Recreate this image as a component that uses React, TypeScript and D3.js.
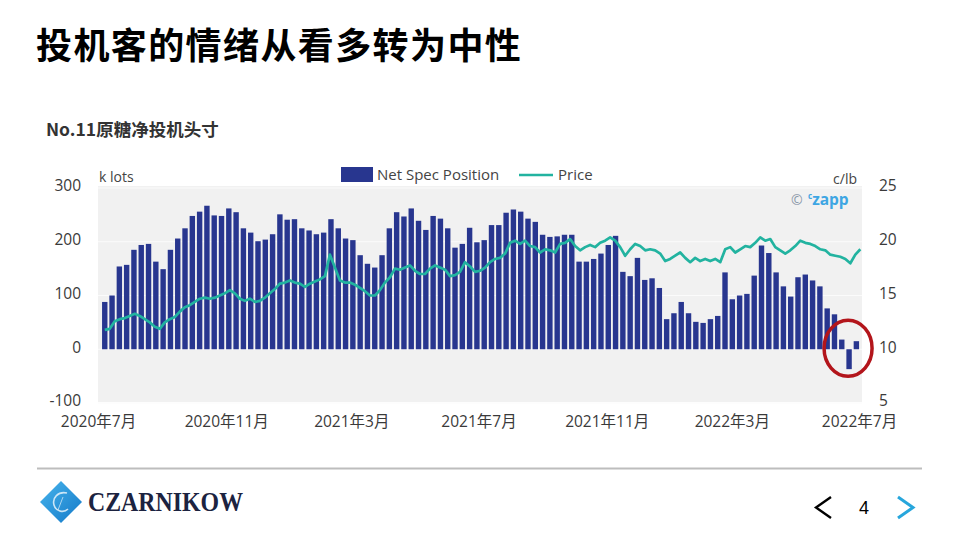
import React from "react";
import * as d3 from "d3";

// ---------- data ----------
const barStartDate = "2020-07-07"; // weekly COT observations
const netSpec: number[] = [
  88, 100, 154, 157, 185, 194, 196, 163, 149, 185, 206, 225, 248, 256, 267, 249, 248, 262, 255, 225,
  217, 201, 204, 214, 251, 241, 242, 225, 221, 214, 217, 242, 225, 206, 203, 175, 159, 152, 175, 225,
  255, 247, 262, 239, 222, 248, 243, 225, 189, 196, 226, 199, 203, 231, 231, 254, 260, 256, 243, 237,
  213, 209, 210, 213, 213, 163, 163, 168, 178, 194, 211, 144, 136, 170, 129, 132, 114, 56, 67, 88,
  67, 51, 49, 56, 62, 143, 93, 100, 103, 137, 193, 179, 143, 117, 98, 134, 139, 128, 117, 76,
  65, 18, -37, 15,
];

const priceStartDate = "2020-07-07";
const priceStepDays = 4.8;
const price: number[] = [
  11.8, 11.9, 12.6, 12.8, 12.9, 13.1, 13.3, 13.1, 12.8, 12.5, 12.1, 11.9, 12.5, 12.8, 13.0, 13.5, 13.9, 14.1, 14.4, 14.7,
  14.8, 14.7, 14.8, 15.0, 15.2, 15.5, 15.2, 14.7, 14.5, 14.7, 14.4, 14.5, 14.8, 15.2, 15.6, 16.1, 16.2,
  16.4, 16.2, 16.1, 15.8, 16.1, 16.3, 16.5, 16.8, 18.8, 17.6, 16.4, 16.2, 16.2, 16.0, 15.7, 15.4, 15.0, 15.0, 15.5, 16.2,
  16.7, 17.5, 17.4, 17.6, 17.8, 17.3, 17.0, 17.0, 17.5, 17.8, 17.6, 17.4, 16.8, 16.9, 17.2, 18.1, 17.7, 17.2,
  17.3, 17.6, 18.1, 18.4, 18.5, 18.9, 19.9, 20.1, 19.8, 20.1, 19.6, 19.5, 19.0, 19.3, 19.2, 19.0, 19.8, 19.9, 20.25, 19.6,
  19.2, 19.5, 19.7, 19.5, 19.9, 20.1, 20.4, 20.1, 19.5, 18.7, 19.3, 19.8, 19.6, 19.2, 19.3, 19.2, 18.9, 18.2, 18.4,
  18.7, 19.0, 18.5, 18.1, 18.5, 18.2, 18.4, 18.2, 18.4, 18.1, 19.3, 19.5, 19.0, 19.3, 19.6, 19.5, 19.9, 20.4, 20.1, 20.25,
  19.5, 19.2, 18.9, 19.2, 19.6, 20.1, 19.9, 19.8, 19.6, 19.3, 19.2, 18.8, 18.7, 18.6, 18.4, 18.0, 18.8, 19.3,
];

const leftTicks = [-100, 0, 100, 200, 300];
const rightTicks = [5, 10, 15, 20, 25];
const xTickDates = ["2020-07-01", "2020-11-01", "2021-03-01", "2021-07-01", "2021-11-01", "2022-03-01", "2022-07-01"];
const xTickLabels = ["2020年7月", "2020年11月", "2021年3月", "2021年7月", "2021年11月", "2022年3月", "2022年7月"];

const title = "投机客的情绪从看多转为中性";
const chartTitle = "No.11原糖净投机头寸";
const legendLabels = ["Net Spec Position", "Price"];
const pageNumber = "4";

// ---------- styling ----------
const NAVY = "#28368f";
const TEAL = "#22b3a0";
const LATIN = "'Open Sans', 'Noto Sans', sans-serif";
const CJK = "'Noto Sans CJK SC', 'Noto Sans', sans-serif";
const TICK = "#3a3a3a";

const parse = d3.timeParse("%Y-%m-%d");

export default function App() {
  const x = d3
    .scaleTime()
    .domain([parse("2020-07-01")!, parse("2022-07-01")!])
    .range([98.5, 859.5]);
  const yL = d3.scaleLinear().domain([-100, 300]).range([403, 188]);
  const yR = d3.scaleLinear().domain([5, 25]).range([403, 188]);

  const barStart = parse(barStartDate)!;
  const bars = netSpec.map((v, i) => ({ date: d3.timeDay.offset(barStart, i * 7), v }));
  const pStart = parse(priceStartDate)!;
  const prices = price.map((p, i) => ({
    date: new Date(+pStart + i * priceStepDays * 86400000),
    p,
  }));
  const line = d3
    .line<{ date: Date; p: number }>()
    .x((d) => x(d.date))
    .y((d) => yR(d.p));

  const barW = 5.4;
  const circleBar = bars[bars.length - 2];

  return (
    <svg
      width={960}
      height={540}
      viewBox="0 0 960 540"
      style={{ position: "absolute", left: 0, top: 0, background: "#fff" }}
    >
      <defs>
        <linearGradient id="diamond" x1="0" y1="0" x2="1" y2="1">
          <stop offset="0%" stopColor="#47b4ec" />
          <stop offset="100%" stopColor="#1479c8" />
        </linearGradient>
      </defs>
      <rect x={0} y={0} width={960} height={540} fill="#fff" />

      {/* slide title */}
      <text x={36} y={59} fontFamily={CJK} fontWeight={700} fontSize={36} fill="#000" letterSpacing={1.4}>
        {title}
      </text>

      {/* chart title */}
      <text x={46} y={136} fontFamily={CJK} fontWeight={700} fontSize={17.5} fill="#333">
        {chartTitle}
      </text>

      {/* plot background */}
      <rect x={98} y={186} width={764} height={216} fill="#f1f1f1" />
      {leftTicks.map((t) => (
        <line key={t} x1={98} x2={862} y1={yL(t)} y2={yL(t)} stroke="#fbfbfb" strokeWidth={1} />
      ))}

      {/* legend */}
      <rect x={341} y={167} width={32} height={15} fill={NAVY} />
      <text x={377} y={180} fontFamily={LATIN} fontSize={15} fill="#444">
        {legendLabels[0]}
      </text>
      <line x1={519} x2={553} y1={175} y2={175} stroke={TEAL} strokeWidth={2.5} />
      <text x={558} y={180} fontFamily={LATIN} fontSize={15} fill="#444">
        {legendLabels[1]}
      </text>

      {/* axis titles */}
      <text x={99} y={182} fontFamily={LATIN} fontSize={14} fill="#444">
        k lots
      </text>
      <text x={857} y={184} textAnchor="end" fontFamily={LATIN} fontSize={14} fill="#444">
        c/lb
      </text>

      {/* czapp mark */}
      <text x={791} y={205} fontFamily={LATIN} fontSize={14} fill="#8a97a8">
        ©
      </text>
      <text x={808} y={205} fontFamily={LATIN} fontWeight={700} fill="#3ea6e3">
        <tspan fontSize={8} dy={-6}>c</tspan>
        <tspan fontSize={15.5} dy={6}>zapp</tspan>
      </text>

      {/* bars */}
      {bars.map((b, i) => {
        const cx = x(b.date);
        const y0 = yL(0);
        const y1 = yL(b.v);
        return (
          <rect
            key={i}
            x={cx - barW / 2}
            y={Math.min(y0, y1)}
            width={barW}
            height={Math.abs(y1 - y0)}
            fill={NAVY}
          />
        );
      })}

      {/* price line */}
      <path d={line(prices) || ""} fill="none" stroke={TEAL} strokeWidth={2.7} strokeLinejoin="round" />

      {/* red circle highlight */}
      <ellipse
        cx={x(circleBar.date) - 1}
        cy={yL(0) - 1}
        rx={24}
        ry={28}
        fill="none"
        stroke="#b3151b"
        strokeWidth={3.5}
      />

      {/* left ticks */}
      {leftTicks.map((t) => (
        <text
          key={t}
          x={81}
          y={yL(t) - 2}
          dy="0.35em"
          textAnchor="end"
          fontFamily={LATIN}
          fontSize={15.5}
          fill={TICK}
        >
          {t}
        </text>
      ))}
      {/* right ticks */}
      {rightTicks.map((t) => (
        <text
          key={t}
          x={879}
          y={yR(t) - 2}
          dy="0.35em"
          textAnchor="start"
          fontFamily={LATIN}
          fontSize={15.5}
          fill={TICK}
        >
          {t}
        </text>
      ))}
      {/* x ticks */}
      {xTickDates.map((d, i) => (
        <text
          key={d}
          x={x(parse(d)!)}
          y={427}
          textAnchor="middle"
          fontFamily={`'Open Sans', 'Noto Sans CJK SC', sans-serif`}
          fontSize={15.5}
          fill={TICK}
        >
          {xTickLabels[i]}
        </text>
      ))}

      {/* footer rule */}
      <line x1={37} x2={922} y1={468.5} y2={468.5} stroke="#bdbdbd" strokeWidth={2} />

      {/* logo */}
      <polygon points="61,481 82,502 61,523 40,502" fill="url(#diamond)" />
      <path
        d="M67,493 C58,491 52,498 54,505 C56,512 64,513 68,509"
        fill="none"
        stroke="#ffffff"
        strokeOpacity={0.75}
        strokeWidth={1.6}
      />
      <path d="M63,497 L58,510" stroke="#ffffff" strokeOpacity={0.6} strokeWidth={1} />
      <text
        x={88}
        y={511}
        fontFamily="'Liberation Serif', 'DejaVu Serif', serif"
        fontWeight={700}
        fontSize={27}
        fill="#1c2340"
        textLength={155}
        lengthAdjust="spacingAndGlyphs"
      >
        CZARNIKOW
      </text>

      {/* navigation */}
      <path d="M831,497 L816,507.5 L831,518" fill="none" stroke="#000" strokeWidth={2.4} />
      <text x={864} y={514} textAnchor="middle" fontFamily="'Liberation Sans', sans-serif" fontSize={18} fill="#000">
        {pageNumber}
      </text>
      <path d="M898,497 L913,507.5 L898,518" fill="none" stroke="#27a6dc" strokeWidth={3} />
    </svg>
  );
}
